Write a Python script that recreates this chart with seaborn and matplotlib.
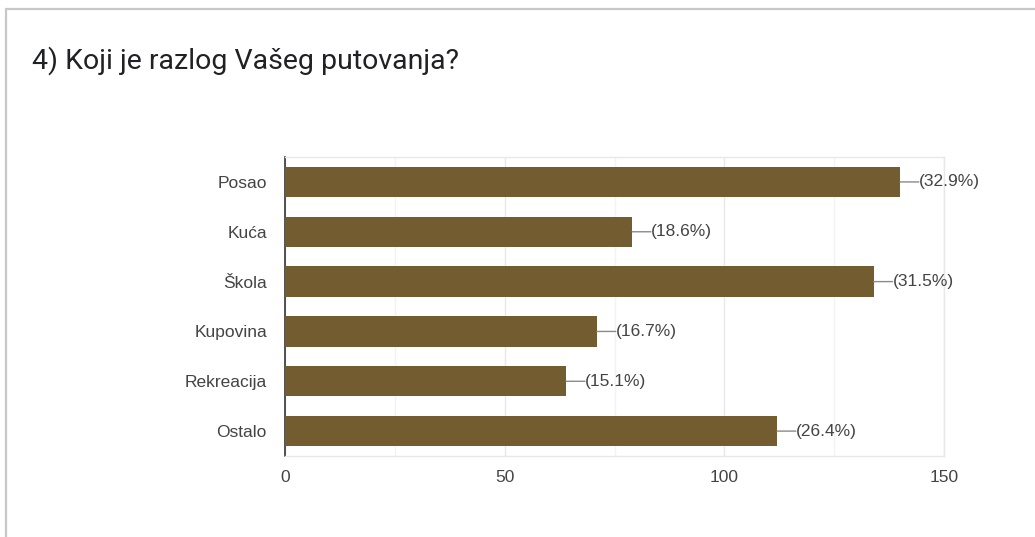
import matplotlib
matplotlib.use("Agg")
import matplotlib.pyplot as plt
from matplotlib.lines import Line2D
from matplotlib.ticker import MultipleLocator
import seaborn as sns
import pandas as pd

# Survey answers: reason for travelling
categories = ["Posao", "Kuća", "Škola", "Kupovina", "Rekreacija", "Ostalo"]
counts = [140, 79, 134, 71, 64, 112]
percent_labels = ["(32.9%)", "(18.6%)", "(31.5%)", "(16.7%)", "(15.1%)", "(26.4%)"]
x_ticks = [0, 50, 100, 150]
title = "4) Koji je razlog Vašeg putovanja?"

sns.set_style("white")
plt.rcParams["font.family"] = ["Liberation Sans", "DejaVu Sans"]

df = pd.DataFrame({"razlog": categories, "broj": counts})

fig = plt.figure(figsize=(10.35, 5.37), dpi=100)
ax = fig.add_axes([0.2754, 0.1508, 0.6367, 0.5568])

sns.barplot(data=df, x="broj", y="razlog", orient="h", color="#735c2f",
            saturation=1, width=0.61, ax=ax, zorder=3)
for p in ax.patches:
    p.set_edgecolor("none")

ax.set_xlim(0, 150)
ax.set_ylim(5.5, -0.5)
ax.set_xticks(x_ticks)
ax.xaxis.set_minor_locator(MultipleLocator(25))
ax.grid(True, axis="x", which="major", color="#e8e8e8", linewidth=1, zorder=0)
ax.grid(True, axis="x", which="minor", color="#f3f3f3", linewidth=1, zorder=0)
ax.set_axisbelow(True)
ax.set_xlabel("")
ax.set_ylabel("")
ax.tick_params(axis="both", which="both", length=0, labelsize=12.5, labelcolor="#444444")
ax.tick_params(axis="y", pad=13)
ax.tick_params(axis="x", pad=10)

for side in ("top", "bottom", "right"):
    ax.spines[side].set_color("#e8e8e8")
    ax.spines[side].set_linewidth(1)
ax.spines["left"].set_color("#333333")
ax.spines["left"].set_linewidth(1.2)

# leader line from each bar end, then the percentage label
for i, (v, lab) in enumerate(zip(counts, percent_labels)):
    ax.annotate("", xy=(v, i), xytext=(13.5, 0), textcoords="offset points",
                arrowprops=dict(arrowstyle="-", color="#8a8a8a", lw=1,
                                shrinkA=0, shrinkB=0))
    ax.annotate(lab, xy=(v, i), xytext=(13.8, 0), textcoords="offset points",
                ha="left", va="center", fontsize=12.5, color="#444444")

fig.text(0.031, 0.888, title, fontsize=20.5, color="#202124",
         family=["Roboto", "DejaVu Sans"], ha="left", va="center")

# card border (top and left edges)
fig.add_artist(Line2D([0.006, 1.0], [0.983, 0.983], color="#c8c8c8", linewidth=1.6,
                      transform=fig.transFigure))
fig.add_artist(Line2D([0.006, 0.006], [0.0, 0.983], color="#c8c8c8", linewidth=1.6,
                      transform=fig.transFigure))

fig.savefig("out.png", dpi=100, facecolor="white")
